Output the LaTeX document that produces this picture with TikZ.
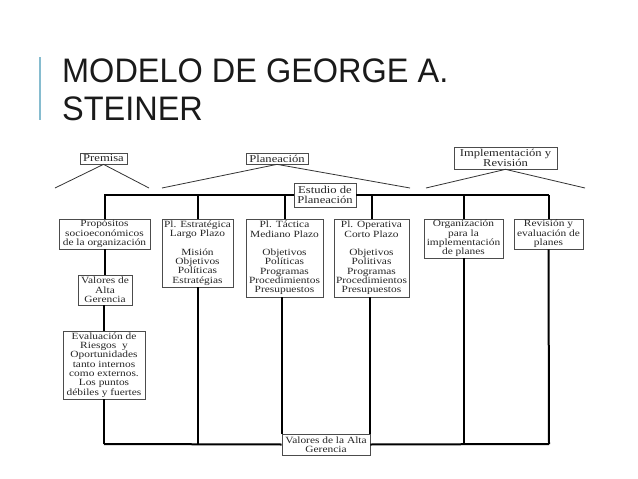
\documentclass[tikz,border=0pt]{standalone}
\usepackage{fontspec}
\setmainfont{Liberation Serif}[FakeStretch=1.2]
\newfontfamily\titlefont{Liberation Sans}[FakeStretch=0.955]
\newcommand{\diagfont}{\fontsize{9.5}{9.3}\selectfont}
\newcommand{\labfont}{\fontsize{10.5}{10.5}\selectfont}
\definecolor{barblue}{HTML}{86BCCF}
\definecolor{ink}{HTML}{1A1A1A}
\begin{document}
\begin{tikzpicture}[x=1pt,y=-1pt,
  box/.style={draw=black!70, line width=0.7pt, fill=white, inner sep=0pt, align=center, font=\diagfont, text=black!85},
  labbox/.style={box, font=\labfont},
  conn/.style={line width=2pt, black},
  slant/.style={line width=0.8pt, black!80},
  titletext/.style={anchor=base west, inner sep=0pt, font=\titlefont\fontsize{34}{34}\selectfont, text=ink}]
\useasboundingbox (0,0) rectangle (638,479);
\fill[white] (0,0) rectangle (638,479);
% title
\coordinate (barT) at (40,57);
\coordinate (barB) at (40,120);
\draw[barblue, line width=2pt] (barT) -- (barB);
\node[titletext] (t1) at (62,82) {MODELO DE GEORGE A.};
\node[titletext] (t2) at (62,120) {STEINER};
% top labels
\node[labbox, minimum width=47pt, minimum height=11pt] (premisa) at (103.5,158.5) {Premisa};
\node[labbox, minimum width=62pt, minimum height=11pt] (planeacion) at (277,158.5) {Planeación};
\node[labbox, minimum width=103pt, minimum height=22pt] (implem) at (505.5,158) {Implementación y\\Revisión};
\coordinate (pL) at (55,188);
\coordinate (pR) at (149,188);
\coordinate (plL) at (162,188);
\coordinate (plR) at (410,188);
\coordinate (imL) at (426,188);
\coordinate (imR) at (585,188);
\draw[slant] (pL) -- (premisa.south) -- (pR);
\draw[slant] (plL) -- (planeacion.south) -- (plR);
\draw[slant] (imL) -- (implem.south) -- (imR);
% row of boxes
\node[box, minimum width=91pt, minimum height=30pt] (prop) at (104.5,234) {Propósitos\\socioeconómicos\\de la organización};
\node[box, minimum width=71pt, minimum height=68pt] (estrat) at (197.5,253) {Pl. Estratégica\\Largo Plazo\\[9.3pt]Misión\\Objetivos\\Políticas\\Estratégias};
\node[box, minimum width=77pt, minimum height=78pt] (tactica) at (284.5,258) {Pl. Táctica\\Mediano Plazo\\[9.3pt]Objetivos\\Políticas\\Programas\\Procedimientos\\Presupuestos};
\node[box, minimum width=75pt, minimum height=78pt] (operativa) at (371.5,258) {Pl. Operativa\\Corto Plazo\\[9.3pt]Objetivos\\Politivas\\Programas\\Procedimientos\\Presupuestos};
\node[box, minimum width=79pt, minimum height=39pt] (organiz) at (463.5,238.5) {Organización\\para la\\implementación\\de planes};
\node[box, minimum width=69pt, minimum height=30pt] (revision) at (548.5,234) {Revisión y\\evaluación de\\planes};
\node[box, minimum width=54pt, minimum height=30pt] (valores1) at (105,290) {Valores de\\Alta\\Gerencia};
\node[box, minimum width=82pt, minimum height=68pt] (evaluacion) at (104,365) {Evaluación de\\Riesgos\ \ y\\Oportunidades\\tanto internos\\como externos.\\Los puntos\\débiles y fuertes};
\node[box, minimum width=88pt, minimum height=21pt] (valores2) at (326,444.5) {Valores de la Alta\\Gerencia};
\node[labbox, minimum width=62pt, minimum height=24pt] (estudio) at (325,195) {Estudio de\\Planeación};
% bus
\coordinate (busL) at (104,195);
\coordinate (busR) at (549,195);
\coordinate (botL) at (104,444);
\coordinate (botR) at (549,444);
\draw[conn] (busL) -- (estudio.west);
\draw[conn] (estudio.east) -- (busR);
\draw[conn] (prop.north |- busL) -- (prop.north);
\draw[conn] (estrat.north |- busL) -- (estrat.north);
\draw[conn] (tactica.north |- busL) -- (tactica.north);
\draw[conn] (operativa.north |- busL) -- (operativa.north);
\draw[conn] (organiz.north |- busL) -- (organiz.north);
\draw[conn] (revision.north |- busL) -- (revision.north);
% verticals
\draw[conn] (prop.south) -- (valores1.north -| prop.south);
\draw[conn] (valores1.south -| evaluacion.north) -- (evaluacion.north);
\draw[conn] (evaluacion.south) -- (botL);
\draw[conn] (estrat.south) -- (estrat.south |- botL);
\draw[conn] (valores2.north west |- tactica.south) -- (valores2.north west);
\draw[conn] (valores2.north east |- operativa.south) -- (valores2.north east);
\draw[conn] (organiz.south) -- (organiz.south |- botL);
\draw[conn] (revision.south) -- (botR);
\draw[conn] (botL) -- (valores2.west);
\draw[conn] (valores2.east) -- (botR);
\end{tikzpicture}
\end{document}
